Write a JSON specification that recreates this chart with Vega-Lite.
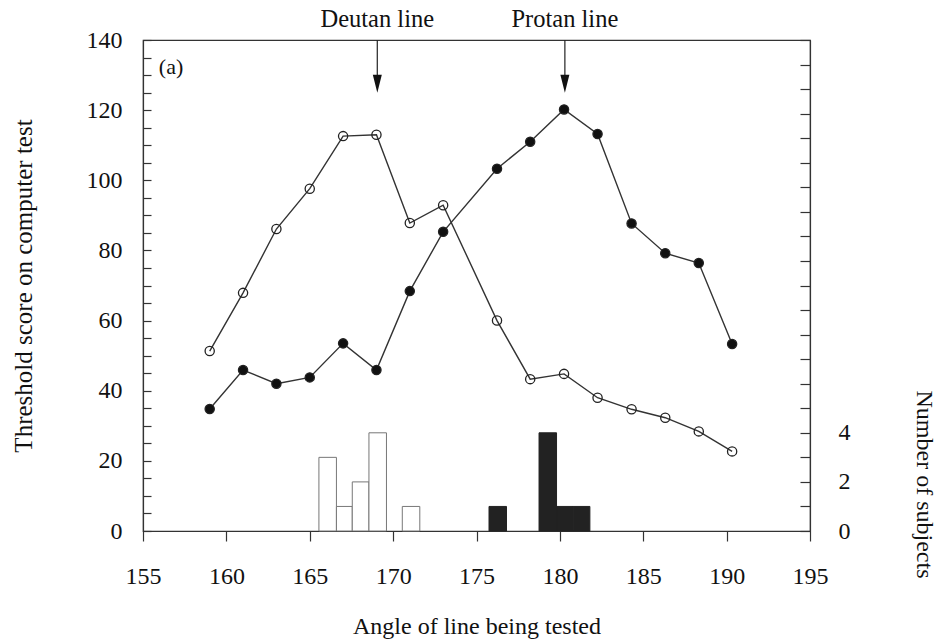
{
  "$schema": "https://vega.github.io/schema/vega-lite/v6.json",
  "width": 667,
  "height": 491,
  "autosize": {"type": "none"},
  "padding": {"left": 143, "top": 40, "right": 127, "bottom": 112},
  "background": "white",
  "config": {
    "font": "Liberation Serif",
    "view": {"stroke": "#333", "strokeWidth": 1.2},
    "axis": {
      "labelFont": "Liberation Serif",
      "titleFont": "Liberation Serif",
      "labelFontSize": 24,
      "titleFontSize": 24,
      "labelColor": "#111",
      "titleColor": "#111",
      "titleFontWeight": "normal",
      "domainColor": "#333",
      "domainWidth": 1.2,
      "tickColor": "#333",
      "tickWidth": 1.2,
      "grid": false
    }
  },
  "datasets": {
    "scores": [
      {"angle": 159, "score": 51.3, "series": "Deutan"},
      {"angle": 161, "score": 67.9, "series": "Deutan"},
      {"angle": 163, "score": 86.1, "series": "Deutan"},
      {"angle": 165, "score": 97.6, "series": "Deutan"},
      {"angle": 167, "score": 112.6, "series": "Deutan"},
      {"angle": 169, "score": 113.0, "series": "Deutan"},
      {"angle": 171, "score": 87.8, "series": "Deutan"},
      {"angle": 173, "score": 92.9, "series": "Deutan"},
      {"angle": 176.23, "score": 60.0, "series": "Deutan"},
      {"angle": 178.22, "score": 43.3, "series": "Deutan"},
      {"angle": 180.25, "score": 44.8, "series": "Deutan"},
      {"angle": 182.26, "score": 38.0, "series": "Deutan"},
      {"angle": 184.3, "score": 34.7, "series": "Deutan"},
      {"angle": 186.32, "score": 32.3, "series": "Deutan"},
      {"angle": 188.33, "score": 28.4, "series": "Deutan"},
      {"angle": 190.33, "score": 22.7, "series": "Deutan"},
      {"angle": 159, "score": 34.8, "series": "Protan"},
      {"angle": 161, "score": 45.9, "series": "Protan"},
      {"angle": 163, "score": 42.0, "series": "Protan"},
      {"angle": 165, "score": 43.8, "series": "Protan"},
      {"angle": 167, "score": 53.5, "series": "Protan"},
      {"angle": 169, "score": 45.9, "series": "Protan"},
      {"angle": 171, "score": 68.4, "series": "Protan"},
      {"angle": 173, "score": 85.3, "series": "Protan"},
      {"angle": 176.23, "score": 103.3, "series": "Protan"},
      {"angle": 178.22, "score": 111.0, "series": "Protan"},
      {"angle": 180.25, "score": 120.2, "series": "Protan"},
      {"angle": 182.26, "score": 113.2, "series": "Protan"},
      {"angle": 184.3, "score": 87.7, "series": "Protan"},
      {"angle": 186.32, "score": 79.2, "series": "Protan"},
      {"angle": 188.33, "score": 76.4, "series": "Protan"},
      {"angle": 190.33, "score": 53.3, "series": "Protan"}
    ],
    "bars": [
      {"lo": 165.55, "hi": 166.6, "count": 3, "group": "Deutan"},
      {"lo": 166.6, "hi": 167.55, "count": 1, "group": "Deutan"},
      {"lo": 167.55, "hi": 168.55, "count": 2, "group": "Deutan"},
      {"lo": 168.55, "hi": 169.6, "count": 4, "group": "Deutan"},
      {"lo": 170.55, "hi": 171.6, "count": 1, "group": "Deutan"},
      {"lo": 175.75, "hi": 176.8, "count": 1, "group": "Protan"},
      {"lo": 178.75, "hi": 179.8, "count": 4, "group": "Protan"},
      {"lo": 179.8, "hi": 180.8, "count": 1, "group": "Protan"},
      {"lo": 180.8, "hi": 181.8, "count": 1, "group": "Protan"}
    ],
    "arrows": [
      {"angle": 169.05, "top": 140, "tip": 127.5, "label": "Deutan line", "labely": 145.7},
      {"angle": 180.3, "top": 140, "tip": 127.5, "label": "Protan line", "labely": 145.7}
    ],
    "panel": [
      {"angle": 155.95, "score": 132.2, "label": "(a)"}
    ]
  },
  "layer": [
    {
      "data": {"name": "bars"},
      "mark": {"type": "rect", "strokeWidth": 1},
      "encoding": {
        "x": {
          "field": "lo", "type": "quantitative",
          "scale": {"domain": [155, 195], "nice": false, "zero": false},
          "axis": {"title": "Angle of line being tested", "values": [155, 160, 165, 170, 175, 180, 185, 190, 195], "tickSize": 10, "labelPadding": 23, "titlePadding": 26, "labelFlush": false}
        },
        "x2": {"field": "hi"},
        "y": {
          "field": "count", "type": "quantitative",
          "scale": {"domain": [0, 20], "nice": false},
          "axis": {
            "orient": "right", "title": "Number of subjects",
            "values": [0, 1, 2, 3, 4, 5, 6, 7, 8, 9, 10, 11, 12, 13, 14, 15, 16, 17, 18, 19, 20],
            "labelExpr": "datum.value <= 4 && datum.value % 2 == 0 ? datum.label : ''",
            "tickSize": -10, "labelPadding": 38, "labelAlign": "left",
            "titleFontSize": 24,
            "titleAngle": 90, "titleX": 113, "titleY": 444, "titleAlign": "center", "titleBaseline": "middle"
          }
        },
        "y2": {"datum": 0},
        "fill": {"field": "group", "type": "nominal", "scale": {"domain": ["Deutan", "Protan"], "range": ["#ffffff", "#222222"]}, "legend": null},
        "stroke": {"field": "group", "type": "nominal", "scale": {"domain": ["Deutan", "Protan"], "range": ["#777777", "#222222"]}, "legend": null}
      }
    },
    {
      "encoding": {
        "x": {
          "field": "angle", "type": "quantitative",
          "scale": {"domain": [155, 195], "nice": false, "zero": false},
          "axis": {"title": "Angle of line being tested", "values": [155, 160, 165, 170, 175, 180, 185, 190, 195], "tickSize": 10, "labelPadding": 23, "titlePadding": 26, "labelFlush": false}
        },
        "y": {
          "field": "score", "type": "quantitative",
          "scale": {"domain": [0, 140], "nice": false},
          "axis": {
            "orient": "left", "title": "Threshold score on computer test",
            "values": [0, 5, 10, 15, 20, 25, 30, 35, 40, 45, 50, 55, 60, 65, 70, 75, 80, 85, 90, 95, 100, 105, 110, 115, 120, 125, 130, 135, 140],
            "labelExpr": "datum.value % 20 == 0 ? datum.label : ''",
            "tickSize": -8, "labelPadding": 29, "titlePadding": 50, "titleFontSize": 25, "labelFlush": false
          }
        }
      },
      "layer": [
        {
          "data": {"name": "scores"},
          "mark": {"type": "line", "stroke": "#333", "strokeWidth": 1.4},
          "encoding": {"detail": {"field": "series", "type": "nominal"}}
        },
        {
          "data": {"name": "scores"},
          "mark": {"type": "point", "shape": "circle", "size": 85, "strokeWidth": 1.3, "stroke": "#222", "opacity": 1},
          "encoding": {
            "fill": {"field": "series", "type": "nominal", "scale": {"domain": ["Deutan", "Protan"], "range": ["transparent", "#111111"]}, "legend": null}
          }
        },
        {
          "data": {"name": "arrows"},
          "mark": {"type": "rule", "stroke": "#222", "strokeWidth": 1.2},
          "encoding": {"y": {"field": "top", "type": "quantitative"}, "y2": {"field": "tip"}}
        },
        {
          "data": {"name": "arrows"},
          "mark": {"type": "point", "shape": "M-0.5,-1L0.5,-1L0,1Z", "size": 324, "filled": true, "fill": "#111", "opacity": 1},
          "encoding": {"y": {"field": "tip", "type": "quantitative"}}
        },
        {
          "data": {"name": "arrows"},
          "mark": {"type": "text", "fontSize": 24.5, "font": "Liberation Serif", "color": "#111", "align": "center", "baseline": "middle"},
          "encoding": {"y": {"field": "labely", "type": "quantitative"}, "text": {"field": "label"}}
        },
        {
          "data": {"name": "panel"},
          "mark": {"type": "text", "fontSize": 22, "font": "Liberation Serif", "color": "#111", "align": "left", "baseline": "middle"},
          "encoding": {"text": {"field": "label"}}
        }
      ]
    }
  ],
  "resolve": {"scale": {"y": "independent", "fill": "independent", "stroke": "independent"}}
}
